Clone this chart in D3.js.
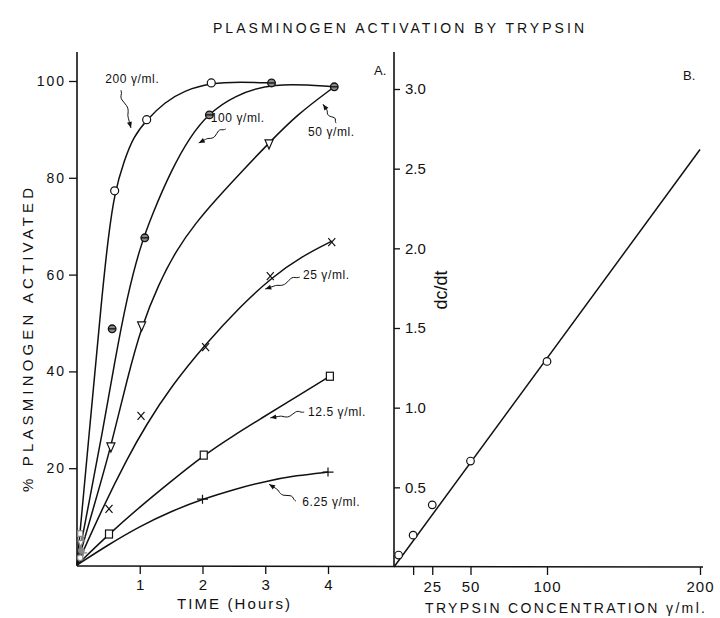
<!DOCTYPE html>
<html><head><meta charset="utf-8">
<script src="https://cdn.jsdelivr.net/npm/d3@7"></script>
<style>
body{margin:0;background:#fff;}
svg text{font-family:"Liberation Sans",Arial,sans-serif;fill:#111;}
</style></head>
<body><svg id="c" width="720" height="618"></svg>
<script>
// ---------- DATA ----------
const titleText = "PLASMINOGEN  ACTIVATION  BY TRYPSIN";
const yLabelA = "% PLASMINOGEN  ACTIVATED";
const xLabelA = "TIME (Hours)";
const xLabelB = "TRYPSIN  CONCENTRATION  γ/ml.";
const yLabelB = "dc/dt";

const timeTicks = [1, 2, 3, 4];
const pctTicks = [20, 40, 60, 80, 100];
const concTicks = [12.5, 25, 50, 100, 200];
const concTickLabels = ["", "25", "50", "100", "200"];
const rateTicks = [0.5, 1.0, 1.5, 2.0, 2.5, 3.0];

const seriesNames = ["200", "100", "50", "25", "12.5", "6.25"];
const seriesMarkers = ["circle", "theta", "tri", "x", "square", "plus"];

// smooth hand-drawn curves (time h, % activated)
const curve200 = [[0,0],[0.2,28],[0.4,56],[0.5,68],[0.6,77],[0.75,83.5],[0.9,88.5],[1.11,92],[1.4,95.6],[1.7,98],[2.14,99.6],[2.6,99.8],[3.1,99.6]];
const curve100 = [[0,0],[0.2,13.5],[0.4,27],[0.6,42],[0.8,55.5],[1.0,65.5],[1.2,72.5],[1.5,81.5],[1.8,88.5],[2.11,93.4],[2.5,96.9],[3.1,99.7],[4.1,98.8]];
const curve50  = [[0,0],[0.3,13.5],[0.54,24.4],[0.8,38.5],[1.03,49.4],[1.3,58],[1.58,65],[1.9,70.8],[2.22,75.6],[2.64,81.5],[3.06,87.2],[3.5,93],[4.1,98.8]];
const curve25  = [[0,0],[0.4,11.6],[0.8,22],[1.1,28.9],[1.5,36.9],[2.05,45.7],[2.6,53.4],[3.1,59.4],[3.6,63.9],[4.06,66.9]];
const curve12  = [[0,0],[0.51,6.4],[1.0,12],[1.48,17.1],[2.02,22.7],[2.5,26.8],[2.9,30],[3.5,34.8],[4.03,39]];
const curve6   = [[0,0],[0.5,4.2],[1.0,8],[1.5,11.1],[2.0,13.6],[2.5,15.6],[3.0,17.3],[3.5,18.5],[4.0,19.2]];

// plotted experimental points
const pts200 = [[0.6,77.3],[1.11,92],[2.14,99.6]];
const pts100 = [[0.56,48.8],[1.08,67.6],[2.11,93],[3.1,99.6],[4.1,98.8]];
const pts50  = [[0.54,24.4],[1.03,49.4],[3.06,87]];
const pts25  = [[0.51,11.6],[1.02,30.8],[2.05,45],[3.08,59.7],[4.06,66.7]];
const pts12  = [[0.51,6.4],[2.02,22.7],[4.03,39]];
const pts6   = [[2.0,13.6],[4.0,19.2]];
// crowded early points near the origin
const ptsEarly = [[0.05,1.5],[0.07,3],[0.06,4.5],[0.09,5.5],[0.05,6.5],[0.1,2.5]];

// series labels (text position and arrow tail/head in data units)
const labelTexts = ["200 γ/ml.", "100 γ/ml.", "50 γ/ml.", "25 γ/ml.", "12.5 γ/ml.", "6.25 γ/ml."];
const labelPos   = [[0.45,99.6],[2.13,91.5],[3.68,88.6],[3.6,59.1],[3.68,30.8],[3.59,12.2]];
const arrowFrom  = [[0.7,98.1],[2.37,90.1],[4.13,91.3],[3.55,59.5],[3.62,31.6],[3.49,13.2]];
const arrowTo    = [[0.86,90.3],[1.94,87.2],[3.92,95.2],[3.0,57],[3.08,30.4],[3.06,16.7]];

// panel B: rate vs trypsin concentration
const bConc = [3, 12.5, 25, 50, 100];
const bRate = [0.075, 0.2, 0.39, 0.665, 1.29];
const bFitConc = [0, 200];
const bFitRate = [0, 2.62];

// ---------- DRAW ----------
const svg = d3.select("#c");
const xA = d3.scaleLinear([0,4],[77,328]);
const yA = d3.scaleLinear([0,100],[565,81]);
const xB = d3.scaleLinear([0,200],[394,700]);
const yB = d3.scaleLinear([0,3],[567,89]);
const ink = "#111";

// frame lines
svg.append("line").attr("x1",77).attr("x2",77).attr("y1",52).attr("y2",566).attr("stroke",ink).attr("stroke-width",1.6);
svg.append("line").attr("x1",394).attr("x2",394).attr("y1",52).attr("y2",567).attr("stroke",ink).attr("stroke-width",1.6);
svg.append("line").attr("x1",77).attr("x2",703).attr("y1",566).attr("y2",567).attr("stroke",ink).attr("stroke-width",1.6);

function styleAxis(g, fs, ls){
  g.select(".domain").remove();
  g.selectAll(".tick line").attr("stroke",ink).attr("stroke-width",1.3);
  g.selectAll(".tick text").attr("font-size",fs).attr("fill",ink).attr("letter-spacing",ls||0)
   .style("font-family","Liberation Sans, Arial, sans-serif");
}
styleAxis(svg.append("g").attr("transform","translate(77,0)")
  .call(d3.axisLeft(yA).tickValues(pctTicks).tickSize(8).tickPadding(3)), 14, 2);
styleAxis(svg.append("g").attr("transform","translate(0,566)")
  .call(d3.axisBottom(xA).tickValues(timeTicks).tickSize(8).tickPadding(5).tickFormat(d3.format("d"))), 15);
styleAxis(svg.append("g").attr("transform","translate(0,567)")
  .call(d3.axisBottom(xB).tickValues(concTicks).tickSize(8).tickPadding(6)
  .tickFormat((d,i)=>concTickLabels[i])), 15, 1);
styleAxis(svg.append("g").attr("transform","translate(394,0)")
  .call(d3.axisRight(yB).tickValues(rateTicks).tickSize(6).tickPadding(5).tickFormat(d3.format(".1f"))), 15);

// curves
const lineA = d3.line().x(d=>xA(d[0])).y(d=>yA(d[1])).curve(d3.curveBasis);
[curve200,curve100,curve50,curve25,curve12,curve6].forEach(c=>{
  svg.append("path").attr("d",lineA(c)).attr("fill","none").attr("stroke",ink).attr("stroke-width",1.5);
});

// markers
function marker(g, type, x, y, col, k){
  col = col || ink; k = k || 1;
  if(type==="circle") g.append("circle").attr("cx",x).attr("cy",y).attr("r",4*k).attr("fill","#fff").attr("stroke",col).attr("stroke-width",1.2);
  if(type==="theta"){ g.append("circle").attr("cx",x).attr("cy",y).attr("r",3.8*k).attr("fill","#888").attr("stroke",col).attr("stroke-width",1.3);
    g.append("line").attr("x1",x-3.8*k).attr("x2",x+3.8*k).attr("y1",y).attr("y2",y).attr("stroke",col).attr("stroke-width",1.3);}
  if(type==="tri") g.append("path").attr("d",`M${x-4*k},${y-4*k}L${x+4*k},${y-4*k}L${x},${y+5*k}Z`).attr("fill","#fff").attr("stroke",col).attr("stroke-width",1.2);
  if(type==="x") g.append("path").attr("d",`M${x-3.5*k},${y-4*k}L${x+3.5*k},${y+4*k}M${x+3.5*k},${y-4*k}L${x-3.5*k},${y+4*k}`).attr("stroke",col).attr("stroke-width",1.2);
  if(type==="square") g.append("rect").attr("x",x-3.5*k).attr("y",y-4*k).attr("width",7*k).attr("height",8*k).attr("fill","#fff").attr("stroke",col).attr("stroke-width",1.2);
  if(type==="plus") g.append("path").attr("d",`M${x-5.5*k},${y}L${x+5.5*k},${y}M${x},${y-4.5*k}L${x},${y+4.5*k}`).attr("stroke",col).attr("stroke-width",1.2);
}
const mg = svg.append("g");
ptsEarly.forEach((d,i)=>marker(mg,seriesMarkers[i],xA(d[0]),yA(d[1]),"#888",0.7));
[pts200,pts100,pts50,pts25,pts12,pts6].forEach((p,i)=>p.forEach(d=>marker(mg,seriesMarkers[i],xA(d[0]),yA(d[1]))));

// series labels with squiggly arrows
function squiggle(p0,p1){
  const dx=p1[0]-p0[0], dy=p1[1]-p0[1], L=Math.hypot(dx,dy), nx=-dy/L, ny=dx/L;
  const pts=[];
  for(let k=0;k<=12;k++){const s=k/12, w=(k>1&&k<9)?Math.sin(s*Math.PI*3)*2.2:0;
    pts.push([p0[0]+dx*s+nx*w, p0[1]+dy*s+ny*w]);}
  return {d:d3.line().curve(d3.curveBasis)(pts), ux:dx/L, uy:dy/L};
}
labelTexts.forEach((t,i)=>{
  svg.append("text").attr("x",xA(labelPos[i][0])).attr("y",yA(labelPos[i][1]))
    .attr("font-size",12).attr("letter-spacing",0.6).text(t);
  const p0=[xA(arrowFrom[i][0]),yA(arrowFrom[i][1])], p1=[xA(arrowTo[i][0]),yA(arrowTo[i][1])];
  const s=squiggle(p0,p1);
  svg.append("path").attr("d",s.d).attr("fill","none").attr("stroke",ink).attr("stroke-width",1);
  const bx=p1[0]-s.ux*6, by=p1[1]-s.uy*6;
  svg.append("path").attr("d",`M${p1[0]},${p1[1]}L${bx-s.uy*2.5},${by+s.ux*2.5}L${bx+s.uy*2.5},${by-s.ux*2.5}Z`).attr("fill",ink);
});

// panel B
svg.append("path").attr("d",d3.line()(bFitConc.map((c,i)=>[xB(c),yB(bFitRate[i])])))
  .attr("stroke",ink).attr("stroke-width",1.5).attr("fill","none");
bConc.forEach((c,i)=>svg.append("circle").attr("cx",xB(c)).attr("cy",yB(bRate[i])).attr("r",3.8)
  .attr("fill","#fff").attr("stroke",ink).attr("stroke-width",1.2));

// texts
svg.append("text").attr("x",213).attr("y",33).attr("font-size",14).attr("textLength",371).attr("lengthAdjust","spacing").text(titleText);
svg.append("text").attr("transform","translate(33,492) rotate(-90)").attr("font-size",15).attr("textLength",304).attr("lengthAdjust","spacing").text(yLabelA);
svg.append("text").attr("x",177).attr("y",609).attr("font-size",15).attr("textLength",113).attr("lengthAdjust","spacing").text(xLabelA);
svg.append("text").attr("x",425).attr("y",613).attr("font-size",14).attr("textLength",280).attr("lengthAdjust","spacing").text(xLabelB);
svg.append("text").attr("transform","translate(447,290) rotate(-90)").attr("text-anchor","middle").attr("font-size",18).text(yLabelB);
svg.append("text").attr("x",374).attr("y",75).attr("font-size",13).text("A.");
svg.append("text").attr("x",683).attr("y",80).attr("font-size",13).text("B.");
</script></body></html>
